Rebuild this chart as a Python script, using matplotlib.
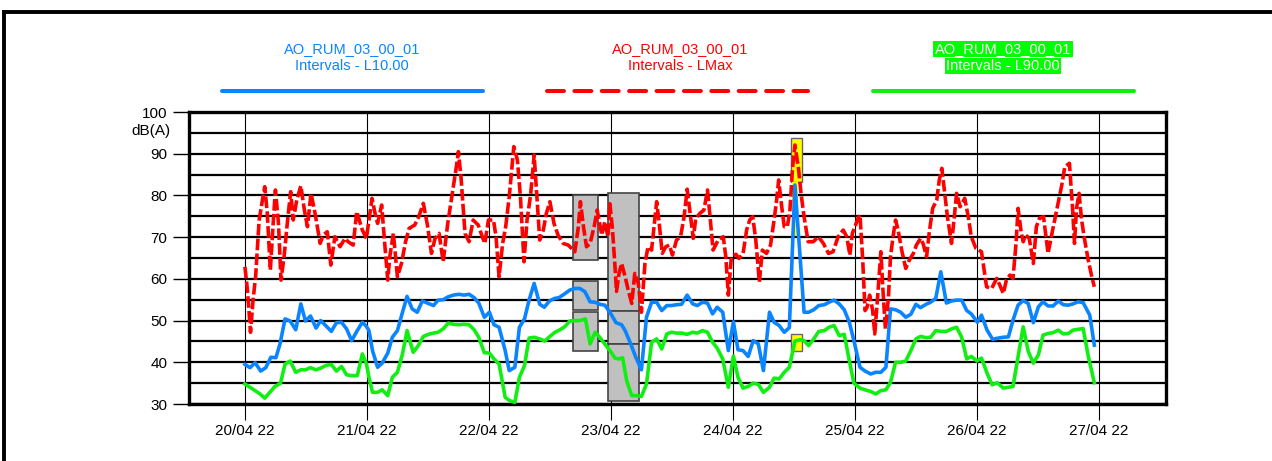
import matplotlib
matplotlib.use("Agg")
import matplotlib.pyplot as plt
from matplotlib.patches import Rectangle
from matplotlib.lines import Line2D

plt.rcParams['font.family'] = ['Liberation Sans', 'DejaVu Sans']

# hours since 20/04/22 00:00
l10_t = [0, 1.0, 2.0, 3.1, 4.1, 5.1, 6.1, 6.9, 7.9, 8.9, 10.0, 11.0, 11.9, 12.9, 14.0, 14.9,
         15.9, 17.0, 18.0, 19.0, 20.0, 21.0, 22.1, 23.1, 23.9, 24.4, 25.1, 26.1, 27.0, 28.1,
         29.0, 30.0, 31.0, 31.9, 32.9, 33.9, 34.9, 35.9, 37.1, 38.0, 39.0, 40.0, 41.0, 42.1,
         43.1, 44.1, 45.1, 46.0, 47.1, 48.1, 49.0, 50.0, 51.2, 52.0, 53.1, 54.0, 55.0, 55.9,
         56.9, 58.0, 58.9, 59.9, 60.9, 61.8, 63.0, 63.9, 64.9, 65.9, 66.9, 67.9, 68.9, 69.8,
         70.8, 71.8, 73.0, 74.1, 74.8, 75.9, 76.9, 78.0, 79.0, 80.0, 81.0, 82.0, 83.0, 83.9,
         84.9, 85.9, 87.0, 88.1, 89.0, 90.0, 91.0, 92.0, 92.9, 94.0, 95.1, 96.1, 97.0, 98.0,
         99.0, 100.0, 101.0, 102.0, 103.2, 104.1, 105.1, 106.1, 107.1, 108.2, 110.0, 110.9,
         111.9, 112.9, 114.0, 114.9, 115.9, 116.9, 117.9, 118.9, 119.8, 121.0, 122.0, 123.1,
         124.1, 125.1, 126.1, 127.0, 128.0, 129.0, 130.0, 131.0, 132.0, 132.9, 134.0, 134.9,
         135.9, 136.9, 138.0, 139.0, 140.0, 141.0, 142.0, 142.9, 144.1, 144.9, 146.0, 147.1,
         148.2, 149.2, 150.2, 151.1, 152.1, 153.1, 154.1, 155.1, 156.1, 157.0, 158.0, 159.0,
         160.0, 161.0, 162.0, 162.9, 163.9, 164.9, 166.2, 167.1]
l10_v = [39.5, 38.7, 39.9, 37.9, 38.7, 41.2, 41.1, 44.4, 50.4, 49.9, 47.8, 54.0, 49.9, 51.1, 48.2, 50.0,
         48.8, 47.4, 49.5, 49.6, 48.0, 45.2, 47.6, 49.6, 48.6, 47.6, 42.8, 38.8, 39.8, 42.2,
         46.0, 47.6, 52.0, 55.8, 52.8, 52.0, 54.7, 54.2, 53.6, 54.9, 55.0, 55.7, 56.1, 56.3,
         56.1, 56.3, 55.5, 54.2, 50.8, 52.0, 49.0, 48.4, 42.8, 38.0, 38.8, 48.4, 50.4, 54.9,
         58.9, 53.9, 53.2, 54.7, 55.3, 55.5, 56.5, 57.3, 57.7, 57.7, 56.9, 54.5, 54.4, 53.9,
         53.7, 52.0, 49.5, 49.0, 47.6, 44.4, 41.2, 38.2, 50.8, 54.4, 54.4, 52.4, 53.6, 53.6,
         53.8, 53.9, 56.1, 54.0, 53.6, 54.4, 54.2, 51.6, 53.2, 52.0, 42.8, 49.7, 43.0, 42.8,
         41.4, 45.2, 44.4, 38.0, 52.0, 49.6, 48.8, 47.2, 48.3, 82.5, 52.0, 52.0,
         52.6, 53.6, 53.8, 54.4, 54.9, 54.0, 52.6, 49.6, 45.2, 38.8, 37.9, 37.2,
         37.6, 37.6, 38.8, 52.8, 52.6, 52.0, 50.8, 51.5, 53.9, 53.1, 53.9, 54.4,
         55.3, 61.7, 54.2, 54.7, 54.9, 54.9, 52.4, 51.6, 49.6, 51.3, 47.7, 45.5,
         45.8, 46.0, 46.1, 50.1, 53.7, 54.8, 54.1, 49.5, 53.3, 54.5, 53.5, 53.5,
         54.7, 53.8, 53.7, 54.0, 54.5, 54.3, 51.3, 44.1]

lmax_t = [0.0, 0.5, 1.1, 1.6, 2.1, 2.8, 3.5, 3.9, 4.4, 5.0, 5.6, 6.0, 6.6, 7.1, 7.7, 8.4, 9.0,
          9.5, 10.2, 11.0, 11.7, 12.3, 13.0, 13.8, 14.8, 15.4, 16.2, 16.9, 17.7, 18.7, 19.7,
          20.3, 21.3, 22.0, 23.1, 23.9, 24.4, 25.0, 25.6, 26.1, 26.9, 27.5, 28.1, 28.5, 29.2,
          30.0, 30.8, 31.6, 32.3, 33.4, 34.2, 35.1, 35.9, 36.7, 37.4, 38.2, 39.0, 39.9, 40.8,
          41.6, 42.0, 42.5, 43.3, 44.1, 44.9, 45.9, 46.7, 47.2, 47.9, 48.9, 49.4, 50.0, 50.7,
          51.3, 52.0, 52.5, 52.9, 53.6, 54.2, 54.9, 55.5, 56.2, 56.9, 57.4, 58.0, 58.7, 59.3,
          60.0, 60.8, 61.6, 62.6, 63.6, 64.9, 65.6, 66.0, 66.6, 67.2, 67.9, 68.7, 69.3, 70.2,
          70.8, 71.4, 71.8, 72.3, 72.8, 73.1, 73.6, 74.1, 74.8, 75.4, 76.1, 76.7, 77.4, 78.0,
          78.7, 79.3, 80.0, 80.7, 81.0, 81.5, 82.1, 82.8, 83.5, 84.1, 84.9, 85.7, 86.4, 87.0,
          87.5, 88.2, 88.7, 89.5, 90.3, 91.0, 91.5, 92.1, 93.1, 94.1, 94.6, 95.1, 95.7, 96.6,
          97.2, 98.0, 98.7, 99.3, 99.9, 100.5, 101.2, 101.8, 102.6, 103.4, 104.1, 104.6, 105.0,
          105.6, 106.1, 106.7, 107.2, 107.7, 108.2, 108.9, 109.4, 110.0, 110.8, 111.8, 112.8,
          113.8, 114.8, 115.7, 116.7, 117.7, 118.4, 119.0, 119.5, 120.0, 120.6, 121.0, 121.5,
          122.0, 122.4, 122.9, 123.5, 123.9, 124.4, 124.8, 125.1, 125.6, 126.0, 126.6, 127.0,
          127.5, 128.0, 128.5, 129.2, 130.0, 130.7, 131.5, 132.1, 132.9, 133.4, 134.1, 134.6,
          135.3, 136.1, 136.6, 137.1, 137.6, 138.2, 139.0, 139.5, 140.0, 140.7, 141.6, 142.3,
          142.9, 143.8, 144.9, 145.9, 146.9, 147.9, 148.5, 149.2, 149.8, 150.5, 151.1, 151.7,
          152.1, 152.7, 153.1, 153.6, 154.3, 155.1, 155.7, 156.3, 157.1, 158.0, 158.7, 159.7,
          160.7, 161.3, 162.2, 162.8, 163.2, 163.6, 164.1, 164.6, 165.2, 165.9, 166.6, 167.1]
lmax_v = [62.9, 57.3, 47.2, 54.9, 60.5, 74.1, 79.3, 82.1, 75.7, 62.1, 74.1, 81.3, 73.3, 59.7, 65.3, 74.1, 80.9,
          74.1, 78.9, 82.3, 76.5, 72.5, 80.5, 75.7, 68.5, 70.5, 71.3, 63.3, 70.1, 67.7, 69.7,
          68.9, 68.1, 76.1, 71.7, 69.7, 74.1, 79.3, 75.7, 73.3, 77.7, 68.5, 59.7, 65.3, 70.9,
          60.5, 63.7, 68.9, 72.1, 72.9, 74.9, 78.1, 72.9, 66.1, 69.7, 70.9, 64.1, 73.3, 80.5,
          86.9, 90.5, 84.5, 70.9, 68.9, 74.1, 72.9, 70.1, 68.5, 74.1, 74.1, 70.1, 60.5, 68.5,
          72.5, 79.7, 86.5, 91.7, 88.5, 79.7, 64.1, 74.1, 80.1, 89.7, 80.5, 69.3, 71.7, 75.7,
          78.5, 73.3, 70.5, 68.5, 68.1, 66.5, 72.5, 78.5, 72.5, 67.7, 68.5, 72.5, 76.5, 70.5,
          73.7, 70.1, 78.0, 72.0, 63.0, 57.0, 61.3, 63.7, 60.5, 57.3, 54.1, 61.3, 58.9, 52.0,
          63.7, 67.7, 66.9, 74.9, 78.5, 73.3, 66.1, 67.7, 68.1, 65.7, 69.3, 70.1, 74.9, 81.5,
          76.5, 69.7, 74.5, 75.7, 76.5, 81.3, 74.9, 66.9, 69.3, 70.1, 65.3, 56.1, 65.3, 65.9,
          64.9, 66.1, 71.7, 74.1, 74.9, 69.3, 59.3, 66.9, 66.1, 68.1, 74.1, 78.9, 83.7,
          77.3, 72.5, 72.5, 76.1, 86.1, 92.1, 86.5, 80.5, 74.9, 68.9, 68.9, 70.1,
          68.5, 66.1, 66.5, 70.1, 71.7, 70.1, 65.7, 70.9, 72.5, 74.5, 75.3, 65.3,
          52.4, 53.2, 56.1, 52.4, 46.8, 54.5, 61.3, 66.5, 55.6, 48.0, 55.6, 65.3,
          70.1, 74.1, 71.7, 66.9, 62.5, 64.5, 66.1, 68.1, 69.7, 68.5, 65.3, 70.9,
          76.9, 78.9, 83.7, 86.5, 81.3, 74.9, 68.5, 74.1, 80.5, 77.3, 79.3, 74.9,
          70.1, 67.3, 66.5, 58.1, 57.7, 60.1, 58.5, 56.5, 59.7, 60.9, 60.1, 68.5,
          76.9, 71.3, 68.9, 70.5, 69.7, 63.7, 72.5, 74.5, 74.9, 66.1, 70.5, 76.5,
          82.5, 86.9, 87.7, 77.3, 68.5, 76.9, 80.5, 74.1, 69.3, 64.5, 60.5, 58.1]

l90_t = [0, 1.0, 2.0, 3.0, 3.9, 4.9, 5.9, 7.0, 7.9, 8.9, 10.0, 11.0, 11.9, 12.9, 14.0, 14.9,
         15.9, 17.0, 18.0, 19.0, 20.0, 21.0, 22.1, 23.1, 23.9, 24.4, 25.1, 26.1, 27.0, 28.1,
         29.0, 30.0, 31.0, 31.9, 33.1, 34.1, 35.1, 36.1, 37.1, 38.0, 39.0, 40.0, 41.0, 42.1,
         43.1, 44.1, 45.1, 46.0, 47.1, 48.1, 49.0, 50.0, 51.2, 52.1, 53.1, 54.0, 55.0, 55.9,
         56.9, 58.0, 59.0, 60.0, 61.0, 62.0, 63.0, 63.9, 64.9, 65.9, 67.0, 67.9, 68.9, 69.8,
         70.8, 71.8, 72.8, 73.6, 74.3, 75.1, 76.1, 77.0, 78.0, 79.0, 80.0, 81.0, 82.0, 83.0,
         83.9, 84.9, 85.9, 87.0, 88.1, 89.0, 90.0, 91.0, 92.0, 92.9, 94.0, 95.1, 96.1, 97.0,
         98.0, 99.0, 100.0, 101.0, 102.0, 103.2, 104.1, 105.1, 106.1, 107.1, 108.2, 109.2,
         110.0, 110.9, 111.9, 112.9, 114.0, 114.9, 115.9, 116.9, 117.9, 118.9, 119.8, 121.0,
         122.0, 123.1, 124.1, 125.1, 126.1, 127.0, 128.0, 129.0, 130.0, 131.0, 132.0, 132.9,
         134.0, 134.9, 135.9, 136.9, 138.0, 139.0, 140.0, 141.0, 142.0, 142.9, 144.0, 144.9,
         146.0, 147.0, 148.0, 149.2, 150.2, 151.1, 152.1, 153.1, 154.1, 155.1, 156.1, 157.0,
         158.0, 159.0, 160.0, 161.0, 162.0, 162.9, 163.9, 164.9, 165.9, 167.1]
l90_v = [34.8, 34.0, 33.2, 32.4, 31.4, 32.8, 34.2, 35.0, 39.6, 40.3, 37.6, 38.2, 38.2, 38.7, 38.2, 38.6,
         39.2, 39.5, 37.9, 39.0, 37.0, 36.8, 36.8, 42.0, 39.6, 36.4, 32.8, 32.8, 33.4, 32.0,
         36.4, 37.6, 42.0, 47.6, 42.4, 44.0, 46.2, 46.7, 47.0, 47.2, 48.0, 49.4, 49.1, 49.0,
         49.1, 49.0, 47.8, 46.0, 42.3, 42.2, 40.8, 39.6, 31.6, 30.8, 30.4, 36.4, 39.2, 45.8,
         46.0, 45.6, 45.1, 46.2, 47.2, 47.8, 48.6, 49.9, 50.0, 50.0, 50.4, 44.4, 47.2, 46.0,
         44.4, 42.8, 41.0, 40.8, 41.1, 35.6, 32.0, 32.0, 31.8, 34.8, 44.8, 45.6, 43.2, 46.8,
         47.2, 47.0, 47.0, 46.7, 47.2, 47.0, 47.6, 47.2, 44.8, 43.4, 40.8, 34.0, 41.5, 36.4,
         33.8, 34.2, 35.0, 34.7, 32.8, 34.0, 36.2, 36.0, 37.6, 38.8, 45.1, 45.4,
         45.2, 44.0, 45.6, 47.4, 47.6, 48.4, 48.8, 46.4, 46.7, 40.4, 35.0, 33.8,
         33.4, 33.0, 32.4, 33.2, 33.4, 35.2, 40.0, 40.0, 40.3, 42.8, 45.6, 46.2,
         45.9, 46.0, 47.6, 47.4, 47.4, 48.0, 48.4, 46.0, 40.8, 41.4, 40.3, 41.0,
         37.4, 34.6, 35.1, 33.8, 34.0, 34.2, 41.4, 48.5, 42.6, 39.8, 41.8, 46.5,
         46.9, 47.1, 47.7, 46.8, 46.9, 47.7, 47.9, 48.1, 41.5, 35.1]

day_labels = ['20/04 22', '21/04 22', '22/04 22', '23/04 22',
              '24/04 22', '25/04 22', '26/04 22', '27/04 22']

# marked periods (grey) and flagged values (yellow): start h, end h, low dB, high dB
grey_t0 = [64.6, 64.6, 64.6, 71.5, 71.5, 71.5]
grey_t1 = [69.5, 69.5, 69.5, 77.5, 77.5, 77.5]
grey_lo = [64.5, 52.6, 42.7, 52.3, 44.3, 30.8]
grey_hi = [80.1, 59.5, 52.0, 80.5, 52.3, 44.3]
yel_t0 = [107.5, 107.7, 107.5]
yel_t1 = [109.6, 108.8, 109.6]
yel_lo = [83.3, 70.2, 42.8]
yel_hi = [93.7, 83.3, 46.7]

blue = '#0a84ff'
red = '#ff0000'
green = '#11ee11'

W, H = 1272, 461
fig = plt.figure(figsize=(W / 100, H / 100), dpi=100)

ax = fig.add_axes([189 / W, 1 - 404 / H, (1166 - 189) / W, (404 - 112) / H])
ax.set_xlim(-11.0, 181.2)
ax.set_ylim(30, 100)

ax.set_yticks(range(30, 101, 10))
ax.set_yticks(range(35, 100, 10), minor=True)
ax.set_xticks([24 * i for i in range(8)])
ax.set_xticklabels(day_labels)
ax.tick_params(axis='y', which='major', direction='out', length=11.5, width=1,
               pad=4, labelsize=11)
ax.tick_params(axis='y', which='minor', length=0)
ax.tick_params(axis='x', direction='out', length=11.5, width=0.8, pad=3, labelsize=11)
ax.set_axisbelow(True)
ax.grid(axis='y', which='both', color='black', linewidth=1.6)
ax.grid(axis='x', which='major', color='black', linewidth=0.8)
for s in ax.spines.values():
    s.set_linewidth(2.4)

for t0, t1, lo, hi in zip(grey_t0, grey_t1, grey_lo, grey_hi):
    ax.add_patch(Rectangle((t0, lo), t1 - t0, hi - lo, facecolor='#c0c0c0',
                           edgecolor='#444444', linewidth=1.2, zorder=1.5))
for i, (t0, t1, lo, hi) in enumerate(zip(yel_t0, yel_t1, yel_lo, yel_hi)):
    ax.add_patch(Rectangle((t0, lo), t1 - t0, hi - lo, facecolor='#ffff00',
                           edgecolor='#666666' if i != 1 else 'none',
                           linewidth=1, zorder=1.5))

ax.plot(l90_t, l90_v, color=green, linewidth=2.6, zorder=3)
ax.plot(l10_t, l10_v, color=blue, linewidth=2.6, zorder=3)
ax.plot(lmax_t, lmax_v, color=red, linewidth=2.6, dashes=(3.2, 0.9), zorder=4)

fig.text(170 / W, 1 - 131 / H, 'dB(A)', ha='right', va='center', fontsize=11)

# legend
leg = [(352, blue, 'Intervals - L10.00', 222, 483, None),
       (680, red, 'Intervals - LMax', 547, 808, (4.2, 2.6)),
       (1003, 'white', 'Intervals - L90.00', 873, 1134, None)]
for cx, col, sub, x0, x1, dash in leg:
    bb = None
    if col == 'white':
        bb = dict(facecolor='#00ff00', edgecolor='none', pad=1)
    fig.text(cx / W, 1 - 49 / H, 'AO_RUM_03_00_01', ha='center', va='center',
             fontsize=10.5, color=col, bbox=bb)
    fig.text(cx / W, 1 - 66 / H, sub, ha='center', va='center',
             fontsize=10.5, color=col, bbox=bb)
    lc = green if col == 'white' else col
    ln = Line2D([x0 / W, x1 / W], [1 - 91 / H, 1 - 91 / H], color=lc, linewidth=2.9,
                solid_capstyle='round', dash_capstyle='round', transform=fig.transFigure)
    if dash:
        ln.set_dashes(dash)
    fig.add_artist(ln)

# outer frame
fig.add_artist(Line2D([4 / W, 1], [1 - 12 / H, 1 - 12 / H], color='black', linewidth=2.8,
                      transform=fig.transFigure))
fig.add_artist(Line2D([4 / W, 4 / W], [1 - 12 / H, 0], color='black', linewidth=2.8,
                      transform=fig.transFigure))

fig.savefig('out.png', dpi=100)
